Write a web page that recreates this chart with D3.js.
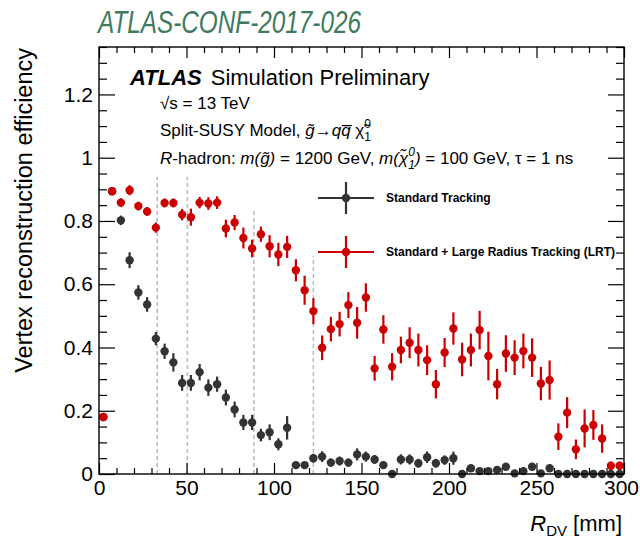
<!DOCTYPE html>
<html>
<head>
<meta charset="utf-8">
<script src="https://cdn.jsdelivr.net/npm/d3@7"></script>
<style>
  html, body { margin: 0; padding: 0; background: #fff; }
  svg { display: block; }
  text { font-family: "Liberation Sans", Arial, Helvetica, sans-serif; }
</style>
</head>
<body>
<svg id="chart" width="640" height="539"></svg>
<script>
// Bin centres in R_DV [mm] (5 mm bins)
const binCentres = d3.range(2.5, 300, 5);

// Standard tracking efficiency and uncertainty per bin
const stdEff = [
  0.18, 0.894, 0.802, 0.676, 0.574, 0.536, 0.428, 0.388, 0.353, 0.288,
  0.288, 0.322, 0.273, 0.284, 0.242, 0.204, 0.163, 0.163, 0.123, 0.132,
  0.094, 0.146, 0.028, 0.028, 0.050, 0.055, 0.036, 0.041, 0.036, 0.062,
  0.055, 0.046, 0.028, 0.0, 0.046, 0.046, 0.034, 0.053, 0.034, 0.044,
  0.050, 0.0, 0.018, 0.009, 0.009, 0.013, 0.023, 0.002, 0.009, 0.023,
  0.002, 0.018, 0.0, 0.0, 0.0, 0.0, 0.0, 0.0, 0.0, 0.0
];
const stdErr = [
  0.012, 0.010, 0.015, 0.025, 0.023, 0.023, 0.021, 0.024, 0.029, 0.025,
  0.025, 0.026, 0.026, 0.024, 0.025, 0.025, 0.024, 0.024, 0.020, 0.025,
  0.019, 0.037, 0.005, 0.005, 0.014, 0.017, 0.013, 0.014, 0.013, 0.019,
  0.016, 0.014, 0.012, 0.0, 0.016, 0.016, 0.014, 0.018, 0.014, 0.015,
  0.021, 0.0, 0.010, 0.007, 0.007, 0.008, 0.011, 0.004, 0.007, 0.012,
  0.004, 0.010, 0.0, 0.0, 0.0, 0.0, 0.0, 0.0, 0.0, 0.0
];

// Standard + Large Radius Tracking efficiency and uncertainty per bin
const lrtEff = [
  0.18, 0.894, 0.858, 0.897, 0.847, 0.830, 0.779, 0.857, 0.857, 0.820,
  0.812, 0.858, 0.855, 0.858, 0.776, 0.795, 0.746, 0.713, 0.758, 0.720,
  0.694, 0.718, 0.644, 0.581, 0.515, 0.399, 0.458, 0.474, 0.534, 0.478,
  0.558, 0.334, 0.457, 0.339, 0.392, 0.415, 0.392, 0.360, 0.284, 0.384,
  0.460, 0.362, 0.392, 0.455, 0.373, 0.284, 0.381, 0.368, 0.389, 0.368,
  0.286, 0.297, 0.118, 0.194, 0.078, 0.144, 0.155, 0.112, 0.026, 0.026
];
const lrtErr = [
  0.012, 0.010, 0.014, 0.016, 0.014, 0.014, 0.016, 0.014, 0.014, 0.018,
  0.027, 0.018, 0.020, 0.020, 0.028, 0.024, 0.033, 0.028, 0.024, 0.035,
  0.037, 0.035, 0.035, 0.046, 0.041, 0.039, 0.039, 0.039, 0.041, 0.050,
  0.045, 0.039, 0.045, 0.043, 0.042, 0.049, 0.052, 0.047, 0.045, 0.046,
  0.051, 0.053, 0.052, 0.061, 0.077, 0.048, 0.058, 0.055, 0.055, 0.061,
  0.053, 0.062, 0.042, 0.049, 0.031, 0.060, 0.047, 0.045, 0.013, 0.013
];

// Pixel layer radii [mm] and the height of each guide line
const layerRadii = [33.25, 50.5, 88.5, 122.5];
const layerTops = [0.94, 0.94, 0.84, 0.69];

const xMajorTicks = [0, 50, 100, 150, 200, 250, 300];
const yMajorTicks = [0, 0.2, 0.4, 0.6, 0.8, 1.0, 1.2];
const yTickLabels = ["0", "0.2", "0.4", "0.6", "0.8", "1", "1.2"];

const seriesNames = ["Standard Tracking", "Standard + Large Radius Tracking (LRT)"];
const seriesColors = ["#333333", "#cc0000"];

const svg = d3.select("#chart");
const frameL = 99, frameR = 624, frameT = 47, frameB = 474;

const x = d3.scaleLinear().domain([0, 300]).range([frameL, frameR]);
const y = d3.scaleLinear().domain([0, 1.35]).range([frameB, frameT]);

// Guide lines at the pixel layers
svg.append("g").selectAll("line")
  .data(layerRadii)
  .join("line")
  .attr("x1", d => x(d)).attr("x2", d => x(d))
  .attr("y1", y(0)).attr("y2", (d, i) => y(layerTops[i]))
  .attr("stroke", "#bdbdbd")
  .attr("stroke-width", 1.6)
  .attr("stroke-dasharray", "4,3");

// Data series: vertical error bars and markers
function drawSeries(eff, err, color) {
  const pts = binCentres.map((c, i) => ({ c, v: eff[i], e: err[i] }));
  const g = svg.append("g");
  g.selectAll("line")
    .data(pts.filter(p => p.e > 0))
    .join("line")
    .attr("x1", p => x(p.c)).attr("x2", p => x(p.c))
    .attr("y1", p => y(p.v - p.e)).attr("y2", p => y(p.v + p.e))
    .attr("stroke", color).attr("stroke-width", 2.2);
  g.selectAll("circle")
    .data(pts)
    .join("circle")
    .attr("cx", p => x(p.c)).attr("cy", p => y(p.v))
    .attr("r", 4.2)
    .attr("fill", color);
}
drawSeries(stdEff, stdErr, seriesColors[0]);
drawSeries(lrtEff, lrtErr, seriesColors[1]);

// Frame
svg.append("rect")
  .attr("x", frameL).attr("y", frameT)
  .attr("width", frameR - frameL).attr("height", frameB - frameT)
  .attr("fill", "none").attr("stroke", "#000").attr("stroke-width", 1.4);

// Inward ticks on all four sides
const xMinor = d3.range(0, 301, 10).filter(v => v % 50 !== 0);
const yMinor = d3.range(0, 28).map(i => +(i * 0.05).toFixed(2)).filter(v => Math.round(v * 100) % 20 !== 0);

function tickSet(axisFn, scale, values, size, transform) {
  svg.append("g")
    .attr("transform", transform)
    .call(axisFn(scale).tickValues(values).tickSize(size).tickFormat(""))
    .call(g => g.select(".domain").remove())
    .call(g => g.selectAll(".tick line").attr("stroke", "#000").attr("stroke-width", 1.2));
}
tickSet(d3.axisTop, x, xMajorTicks, 11, `translate(0,${frameB})`);
tickSet(d3.axisTop, x, xMinor, 6, `translate(0,${frameB})`);
tickSet(d3.axisBottom, x, xMajorTicks, 11, `translate(0,${frameT})`);
tickSet(d3.axisBottom, x, xMinor, 6, `translate(0,${frameT})`);
tickSet(d3.axisRight, y, yMajorTicks, 16, `translate(${frameL},0)`);
tickSet(d3.axisRight, y, yMinor, 8, `translate(${frameL},0)`);
tickSet(d3.axisLeft, y, yMajorTicks, 16, `translate(${frameR},0)`);
tickSet(d3.axisLeft, y, yMinor, 8, `translate(${frameR},0)`);

// Tick labels (the last x label is nudged so it stays inside the page)
svg.append("g")
  .attr("transform", `translate(0,${frameB})`)
  .call(d3.axisBottom(x).tickValues(xMajorTicks).tickSize(0).tickPadding(6).tickFormat(d3.format("d")))
  .call(g => g.select(".domain").remove())
  .call(g => g.selectAll("text")
    .attr("font-family", "Liberation Sans, Arial, sans-serif")
    .attr("font-size", 21).attr("fill", "#000")
    .attr("dx", d => d === 300 ? -3 : 0));

svg.append("g")
  .attr("transform", `translate(${frameL},0)`)
  .call(d3.axisLeft(y).tickValues(yMajorTicks).tickSize(0).tickPadding(6)
    .tickFormat((d, i) => yTickLabels[i]))
  .call(g => g.select(".domain").remove())
  .call(g => g.selectAll("text")
    .attr("font-family", "Liberation Sans, Arial, sans-serif")
    .attr("font-size", 21).attr("fill", "#000"));

// Axis titles
svg.append("text")
  .attr("transform", "translate(32,48) rotate(-90)")
  .attr("text-anchor", "end")
  .attr("font-size", 23.5)
  .text("Vertex reconstruction efficiency");

const xt = svg.append("text")
  .attr("x", 622).attr("y", 531)
  .attr("text-anchor", "end")
  .attr("font-size", 22);
xt.append("tspan").attr("font-style", "italic").text("R");
xt.append("tspan").attr("font-size", 15).attr("dy", 5).text("DV");
xt.append("tspan").attr("dy", -5).text(" [mm]");

// Header
svg.append("text")
  .attr("x", 98).attr("y", 33)
  .attr("font-family", "Lato, 'Open Sans', sans-serif")
  .attr("font-style", "italic")
  .attr("font-size", 32)
  .attr("fill", "#3f7a5f")
  .attr("textLength", 263)
  .attr("lengthAdjust", "spacingAndGlyphs")
  .text("ATLAS-CONF-2017-026");

const atlas = svg.append("text").attr("x", 130).attr("y", 85).attr("font-size", 22);
atlas.append("tspan").attr("font-weight", "bold").attr("font-style", "italic").text("ATLAS");
atlas.append("tspan").attr("dx", 9).text("Simulation Preliminary");

const fs = 17;
svg.append("text").attr("x", 160).attr("y", 109).attr("font-size", fs).text("√s = 13 TeV");

const l2 = svg.append("text").attr("x", 160).attr("y", 136).attr("font-size", fs);
l2.append("tspan").text("Split-SUSY Model, ");
l2.append("tspan").attr("font-style", "italic").text("g\u0303");
l2.append("tspan").text("\u2192");
l2.append("tspan").attr("font-style", "italic").text("q");
l2.append("tspan").attr("font-style", "italic").text("q\u0305");
l2.append("tspan").text(" \u03C7\u0303");
l2.append("tspan").attr("font-size", 12).attr("dy", -8).text("0");
l2.append("tspan").attr("font-size", 12).attr("dx", -6.7).attr("dy", 13).text("1");

const l3 = svg.append("text").attr("x", 160).attr("y", 164).attr("font-size", fs);
l3.append("tspan").attr("font-style", "italic").text("R");
l3.append("tspan").text("-hadron: ");
l3.append("tspan").attr("font-style", "italic").text("m(g\u0303)");
l3.append("tspan").text(" = 1200 GeV, ");
l3.append("tspan").attr("font-style", "italic").text("m(\u03C7\u0303");
l3.append("tspan").attr("font-style", "italic").attr("font-size", 12).attr("dy", -8).text("0");
l3.append("tspan").attr("font-style", "italic").attr("font-size", 12).attr("dx", -6.7).attr("dy", 13).text("1");
l3.append("tspan").attr("font-style", "italic").attr("dy", -5).text(")");
l3.append("tspan").text(" = 100 GeV, \u03C4 = 1 ns");

// Legend
const legendY = [198, 252];
const legend = svg.append("g");
seriesNames.forEach((name, i) => {
  const cy = legendY[i];
  const g = legend.append("g");
  g.append("line").attr("x1", 318).attr("x2", 374).attr("y1", cy).attr("y2", cy)
    .attr("stroke", seriesColors[i]).attr("stroke-width", 2.2);
  g.append("line").attr("x1", 346).attr("x2", 346).attr("y1", cy - 16).attr("y2", cy + 16)
    .attr("stroke", seriesColors[i]).attr("stroke-width", 2.2);
  g.append("circle").attr("cx", 346).attr("cy", cy).attr("r", 4.2).attr("fill", seriesColors[i]);
  g.append("text").attr("x", 386).attr("y", cy + 4)
    .attr("font-size", 12).attr("font-weight", "bold").text(name);
});
</script>
</body>
</html>
